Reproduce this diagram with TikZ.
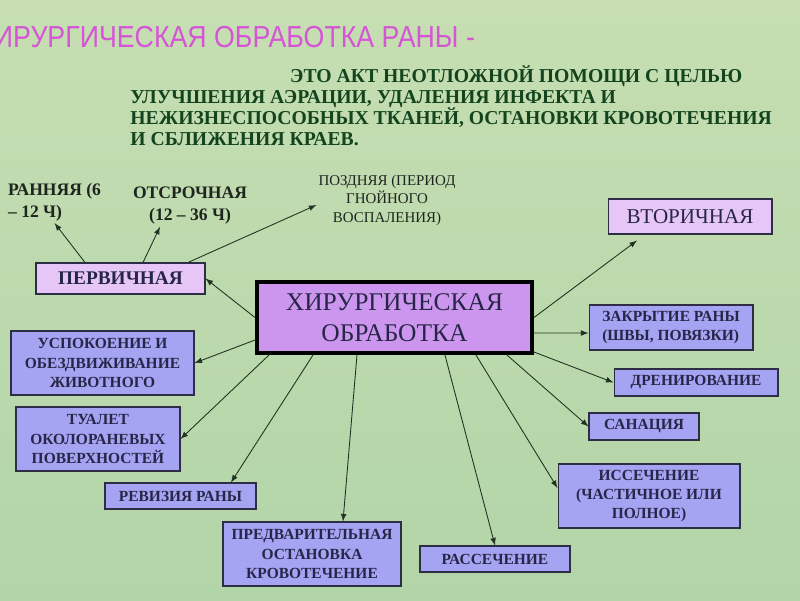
\documentclass[tikz,border=0pt]{standalone}
\usepackage{fontspec}
\setmainfont{Liberation Serif}
\newfontfamily\titlefont[FakeStretch=0.88]{Liberation Sans}
\usetikzlibrary{arrows, shapes}

\definecolor{bgtop}{RGB}{198,222,178}
\definecolor{bgmid}{RGB}{186,219,174}
\definecolor{bgbot}{RGB}{178,213,168}
\definecolor{titlecol}{RGB}{214,84,214}
\definecolor{defcol}{RGB}{20,68,30}
\definecolor{lilalight}{RGB}{230,198,246}
\definecolor{lilacenter}{RGB}{204,150,238}
\definecolor{bluebox}{RGB}{164,164,242}
\definecolor{ink}{RGB}{40,38,72}
\definecolor{frame}{RGB}{45,45,70}
\definecolor{arrowcol}{RGB}{35,50,35}
\definecolor{labelcol}{RGB}{30,36,30}

\begin{document}
\begin{tikzpicture}[x=0.02cm, y=-0.02cm, >=latex]
    \tikzstyle{every node} = [inner sep=1pt]
    \tikzstyle{lightbox} = [draw=frame, line width=0.6pt, fill=lilalight, text=ink]
    \tikzstyle{bluebox} = [draw=frame, line width=0.6pt, fill=bluebox, text=ink, align=center, font=\bfseries\fontsize{8.8}{11}\selectfont]
    \tikzstyle{label} = [text=labelcol, align=center, font=\bfseries\fontsize{10}{12.5}\selectfont]
    \tikzstyle{link} = [->, draw=arrowcol, line width=0.5pt]
    \shade [top color=bgtop, middle color=bgmid, bottom color=bgbot] (0, 0) rectangle (800, 600);
    \useasboundingbox (0, 0) rectangle (800, 600);
    \node (titel) [anchor=base east, text=titlecol, font=\titlefont\fontsize{17.3}{20}\selectfont] at (477, 47) {ХИРУРГИЧЕСКАЯ ОБРАБОТКА РАНЫ -};
    \node (def) [anchor=north west, align=left, inner sep=0pt, text=defcol, font=\bfseries\fontsize{11.2}{12}\selectfont] at (130, 65) {\hspace*{91pt}ЭТО АКТ НЕОТЛОЖНОЙ ПОМОЩИ С ЦЕЛЬЮ\\ УЛУЧШЕНИЯ АЭРАЦИИ, УДАЛЕНИЯ ИНФЕКТА И\\ НЕЖИЗНЕСПОСОБНЫХ ТКАНЕЙ, ОСТАНОВКИ КРОВОТЕЧЕНИЯ\\ И СБЛИЖЕНИЯ КРАЕВ.};
    \node (chir) [draw=black, line width=2.3pt, fill=lilacenter, text=ink, align=center, minimum width=5.5cm, minimum height=1.42cm, font=\fontsize{14.5}{18}\selectfont] at (394.5, 317.5) {ХИРУРГИЧЕСКАЯ\\ОБРАБОТКА};
    \node (perv) [lightbox, minimum width=3.38cm, minimum height=0.62cm, font=\bfseries\fontsize{11}{13}\selectfont] at (120.5, 278.5) {ПЕРВИЧНАЯ};
    \node (vtor) [lightbox, minimum width=3.28cm, minimum height=0.7cm, font=\fontsize{12}{14}\selectfont] at (690, 216.5) {ВТОРИЧНАЯ};
    \node (rann) [label, anchor=west, align=left] at (6, 202) {РАННЯЯ (6\\– 12 Ч)};
    \node (otsr) [label] at (190, 206) {ОТСРОЧНАЯ\\(12 – 36 Ч)};
    \node (pozd) [label, font=\fontsize{8.5}{10.5}\selectfont] at (387, 200) {ПОЗДНЯЯ (ПЕРИОД\\ГНОЙНОГО\\ВОСПАЛЕНИЯ)};
    \node (zakr) [bluebox, align=left, minimum width=3.28cm, minimum height=0.9cm] at (671, 327.5) {ЗАКРЫТИЕ РАНЫ\\(ШВЫ, ПОВЯЗКИ)};
    \node (dren) [bluebox, minimum width=3.28cm, minimum height=0.54cm] at (696, 382.5) {ДРЕНИРОВАНИЕ};
    \node (sanac) [bluebox, minimum width=2.2cm, minimum height=0.54cm] at (644, 426.5) {САНАЦИЯ};
    \node (issec) [bluebox, minimum width=3.64cm, minimum height=1.28cm] at (649, 496) {ИССЕЧЕНИЕ\\(ЧАСТИЧНОЕ ИЛИ\\ПОЛНОЕ)};
    \node (rassec) [bluebox, minimum width=3cm, minimum height=0.52cm] at (495, 559) {РАССЕЧЕНИЕ};
    \node (predv) [bluebox, minimum width=3.56cm, minimum height=1.28cm] at (312, 554) {ПРЕДВАРИТЕЛЬНАЯ\\ОСТАНОВКА\\КРОВОТЕЧЕНИЕ};
    \node (reviz) [bluebox, minimum width=3.02cm, minimum height=0.52cm] at (180.5, 496) {РЕВИЗИЯ РАНЫ};
    \node (tual) [bluebox, minimum width=3.28cm, minimum height=1.28cm] at (98, 439) {ТУАЛЕТ\\ОКОЛОРАНЕВЫХ\\ПОВЕРХНОСТЕЙ};
    \node (uspok) [bluebox, minimum width=3.66cm, minimum height=1.28cm] at (102.5, 363) {УСПОКОЕНИЕ И\\ОБЕЗДВИЖИВАНИЕ\\ЖИВОТНОГО};
    \draw [link] ([xshift=-0.71cm]perv.north) -- (rann.south);
    \draw [link] ([xshift=0.45cm]perv.north) -- ([xshift=-0.6cm]otsr.south);
    \draw [link] ([xshift=1.35cm]perv.north) -- ([yshift=-0.1cm]pozd.west);
    \draw [link] (chir.west) -- (perv.east);
    \draw [link] ([yshift=-0.45cm]chir.west) -- (uspok.east);
    \draw [link] ([xshift=0.28cm]chir.south west) -- (tual.east);
    \draw [link] ([xshift=1.16cm]chir.south west) -- ([xshift=1.01cm]reviz.north);
    \draw [link] ([xshift=2.04cm]chir.south west) -- ([xshift=0.62cm]predv.north);
    \draw [link] ([xshift=3.8cm]chir.south west) -- (rassec.north);
    \draw [link] ([xshift=4.42cm]chir.south west) -- ([yshift=0.16cm]issec.west);
    \draw [link] ([xshift=5.04cm]chir.south west) -- (sanac.west);
    \draw [link] ([yshift=0.06cm]chir.south east) -- (dren.west);
    \draw [link] ([yshift=-0.31cm]chir.east) -- ([yshift=-0.11cm]zakr.west);
    \draw [link] (chir.east) -- ([xshift=-1.06cm, yshift=-0.12cm]vtor.south);
\end{tikzpicture}
\end{document}
